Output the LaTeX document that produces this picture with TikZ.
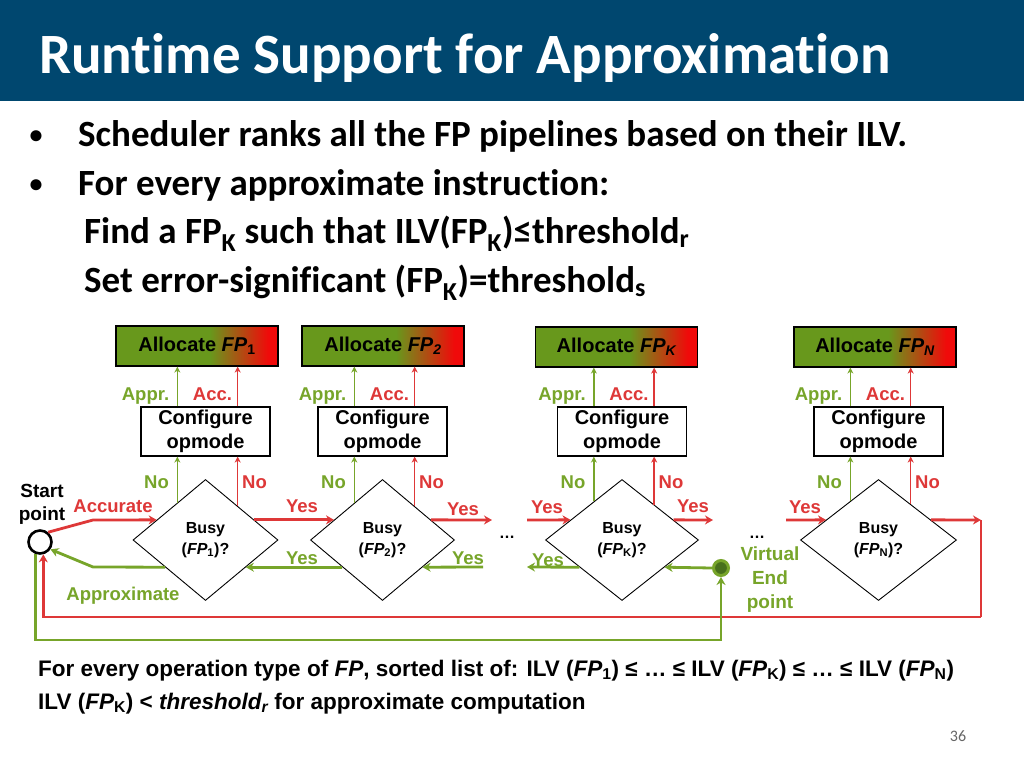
\documentclass[tikz,border=0pt]{standalone}
\usepackage{fontspec}
\setmainfont{Liberation Sans}
\newfontfamily\calibri[Ligatures=NoCommon]{Carlito}
\usetikzlibrary{shapes.geometric,arrows.meta,calc}
\definecolor{tbar}{RGB}{0,71,111}
\definecolor{gr}{RGB}{119,165,42}
\definecolor{rd}{RGB}{222,56,56}
\definecolor{bgr}{RGB}{104,152,28}
\definecolor{brd}{RGB}{240,10,10}
\definecolor{dgr}{RGB}{72,112,28}
\pgfdeclarehorizontalshading{allocsh}{100bp}{color(0bp)=(bgr); color(25bp)=(bgr); color(54bp)=(bgr); color(72bp)=(brd); color(100bp)=(brd)}
\newcommand{\lsub}[1]{\textsubscript{#1}}
\tikzset{
  allocbox/.style={draw=black, line width=1.2pt, shading=allocsh, minimum width=162pt, minimum height=40pt, inner sep=0pt, font=\bfseries\fontsize{20}{24}\selectfont},
  cfgbox/.style={draw=black, line width=1.2pt, fill=white, minimum width=129pt, minimum height=49pt, inner sep=0pt, align=center, font=\bfseries\fontsize{20}{24}\selectfont},
  decbox/.style={diamond, draw=black, line width=0.9pt, minimum height=121pt, inner sep=0pt, align=center, font=\bfseries\fontsize{16}{21}\selectfont},
  glab/.style={text=gr, anchor=base, inner sep=0pt, font=\bfseries\fontsize{18.5}{22}\selectfont},
  rlab/.style={text=rd, anchor=base, inner sep=0pt, font=\bfseries\fontsize{18.5}{22}\selectfont},
  thinG/.style={draw=gr, line width=1.6pt, -{Stealth[length=6pt,width=6pt]}},
  thinR/.style={draw=rd, line width=1.6pt, -{Stealth[length=6pt,width=6pt]}},
  thickG/.style={draw=gr, line width=2.8pt, -{Stealth[length=8pt,width=9pt]}},
  thickR/.style={draw=rd, line width=2.8pt, -{Stealth[length=8pt,width=9pt]}},
  plainR/.style={draw=rd, line width=2.8pt},
  bul/.style={anchor=base west, inner sep=0pt, font=\calibri\bfseries\fontsize{37}{44}\selectfont},
  buldot/.style={anchor=base, inner sep=0pt, font=\calibri\bfseries\fontsize{26}{30}\selectfont},
  btxt/.style={anchor=base west, inner sep=0pt, font=\bfseries\fontsize{22.5}{27}\selectfont},
}
\begin{document}
\begin{tikzpicture}[x=1pt,y=-1pt]
\useasboundingbox (0,0) rectangle (1024,768);
\fill[white] (0,0) rectangle (1024,768);
\fill[tbar] (0,0) rectangle (1024,101);
\node[anchor=base west, inner sep=0pt, text=white, font=\calibri\bfseries\fontsize{57}{66}\selectfont] (title) at (39,73) {Runtime Support for Approximation};
% bullets
\node[buldot] (b1d) at (36,143) {•};
\node[bul] (b1) at (78,146) {Scheduler ranks all the FP pipelines based on their ILV.};
\node[buldot] (b2d) at (36,192) {•};
\node[bul] (b2) at (78,195) {For every approximate instruction:};
\node[bul] (b3) at (84,243) {Find a FP\lsub{K} such that ILV(FP\lsub{K})≤threshold\lsub{r}};
\node[bul] (b4) at (84,292) {Set error-significant (FP\lsub{K})=threshold\lsub{s}};
% allocate boxes
\node[allocbox] (a1) at (197,346) {Allocate \textit{FP}\lsub{1}};
\node[allocbox] (a2) at (383,346) {Allocate \textit{FP}\lsub{\textit{2}}};
\node[allocbox] (aK) at (616.5,347) {Allocate \textit{FP\lsub{K}}};
\node[allocbox] (aN) at (875,347) {Allocate \textit{FP\lsub{N}}};
% configure boxes
\node[cfgbox] (c1) at (205.5,431.5) {Configure\\opmode};
\node[cfgbox] (c2) at (382.5,431.5) {Configure\\opmode};
\node[cfgbox] (cK) at (622,431.5) {Configure\\opmode};
\node[cfgbox] (cN) at (878.5,431.5) {Configure\\opmode};
% decisions
\node[decbox, minimum width=145pt] (d1) at (205.5,540) {Busy\\(\textit{FP}\lsub{1})?};
\node[decbox, minimum width=144pt] (d2) at (382.5,540) {Busy\\(\textit{FP}\lsub{2})?};
\node[decbox, minimum width=153pt] (dK) at (622,540) {Busy\\(\textit{FP}\lsub{K})?};
\node[decbox, minimum width=156pt] (dN) at (878.5,540) {Busy\\(\textit{FP}\lsub{N})?};
% start and virtual end
\node[circle, draw=black, line width=2.6pt, minimum size=23pt, inner sep=0pt] (s) at (40,542) {};
\node[circle, fill=dgr, draw=gr, line width=3pt, minimum size=15pt, inner sep=0pt] (v) at (721,568) {};
\node[anchor=base, align=center, inner sep=0pt, font=\bfseries\fontsize{19}{23}\selectfont] (stl) at (42,520) {Start\\point};
\node[text=gr, inner sep=0pt, align=center, font=\bfseries\fontsize{19}{24}\selectfont] (vl) at (770,580) {Virtual\\End\\point};
\node[inner sep=0pt, font=\bfseries\fontsize{16}{20}\selectfont] (dots1) at (507,537) {…};
\node[inner sep=0pt, font=\bfseries\fontsize{16}{20}\selectfont] (dots2) at (757,537) {…};
% points on diamond borders
\foreach \d/\ga/\ra in {d1/0.386/0.441, d2/0.389/0.444, dK/0.366/0.418, dN/0.359/0.410}{
  \coordinate (\d ng) at ($(\d.north)!\ga!(\d.west)$);
  \coordinate (\d nr) at ($(\d.north)!\ra!(\d.east)$);
  \coordinate (\d wr) at ($(\d.west)!0.3306!(\d.north)$);
  \coordinate (\d er) at ($(\d.east)!0.3306!(\d.north)$);
  \coordinate (\d wg) at ($(\d.west)!0.4463!(\d.south)$);
  \coordinate (\d eg) at ($(\d.east)!0.4463!(\d.south)$);
}
% No / Appr / Acc arrows
\foreach \d/\c/\a in {d1/c1/a1, d2/c2/a2, dK/cK/aK, dN/cN/aN}{
  \draw[thinG] (\d ng) -- (\d ng |- \c.south);
  \draw[thinR] (\d nr) -- (\d nr |- \c.south);
  \draw[thinG] (\d ng |- \c.north) -- (\d ng |- \a.south);
  \draw[thinR] (\d nr |- \c.north) -- (\d nr |- \a.south);
}
\foreach \c in {c1,c2,cK,cN}{
  \node[glab] at ($(\c.center)+(-60,-31.5)$) {Appr.};
  \node[rlab] at ($(\c.center)+(7,-31.5)$) {Acc.};
  \node[glab] at ($(\c.center)+(-49,56.5)$) {No};
  \node[rlab] at ($(\c.center)+(49,56.5)$) {No};
}
% red accurate chain
\coordinate (ra) at (93,520);
\draw[thickR] (s.50) -- (ra) -- (d1wr);
\draw[thickR] (d1er) -- (d2wr);
\coordinate (r2) at (492,520);
\draw[thickR] (d2er) -- (r2);
\coordinate (r3) at (527,520);
\draw[thickR] (r3) -- (dKwr);
\coordinate (r4) at (713,520);
\draw[thickR] (dKer) -- (r4);
\coordinate (r5) at (786,520);
\draw[thickR] (r5) -- (dNwr);
\coordinate (rc) at (981,520);
\coordinate (rb) at (981,617);
\draw[thickR] (dNer) -- (rc);
\draw[plainR] (rc) -- (rb);
\draw[thickR] (rb) -- (rb -| s.-75) -- (s.-75);
% green approximate chain
\coordinate (gb) at (721,640);
\draw[thickG] (s.-110) -- (s.-110 |- gb) -- (gb) -- (v.south);
\draw[thickG] (v.west) -- (dKeg);
\coordinate (g3) at (527,567);
\draw[thickG] (dKwg) -- (g3);
\coordinate (g2) at (483,567);
\draw[thickG] (g2) -- (d2eg);
\draw[thickG] (d2wg) -- (d1eg);
\coordinate (ga) at (93,567);
\draw[thickG] (d1wg) -- (ga) -- (s.-35);
% labels on flow
\node[rlab] (lacc) at (113,512) {Accurate};
\node[glab] (lapp) at (123,600) {Approximate};
\node[rlab] at (302,512) {Yes};
\node[rlab] at (463,515) {Yes};
\node[rlab] at (547,513) {Yes};
\node[rlab] at (693,512) {Yes};
\node[rlab] at (805,513) {Yes};
\node[glab] at (302,564) {Yes};
\node[glab] at (468,564) {Yes};
\node[glab] at (548,566) {Yes};
% bottom text
\node[btxt] (t1) at (38,676) {For every operation type of \textit{FP}, sorted list of: ILV (\textit{FP}\lsub{1}) ≤ … ≤ ILV (\textit{FP}\lsub{K}) ≤ … ≤ ILV (\textit{FP}\lsub{N})};
\node[btxt] (t2) at (38,709) {ILV (\textit{FP}\lsub{K}) < \textit{threshold\lsub{r}} for approximate computation};
\node[anchor=base, inner sep=0pt, text=black!60, font=\calibri\fontsize{16}{20}\selectfont] (pg) at (958,741) {36};
\end{tikzpicture}
\end{document}
